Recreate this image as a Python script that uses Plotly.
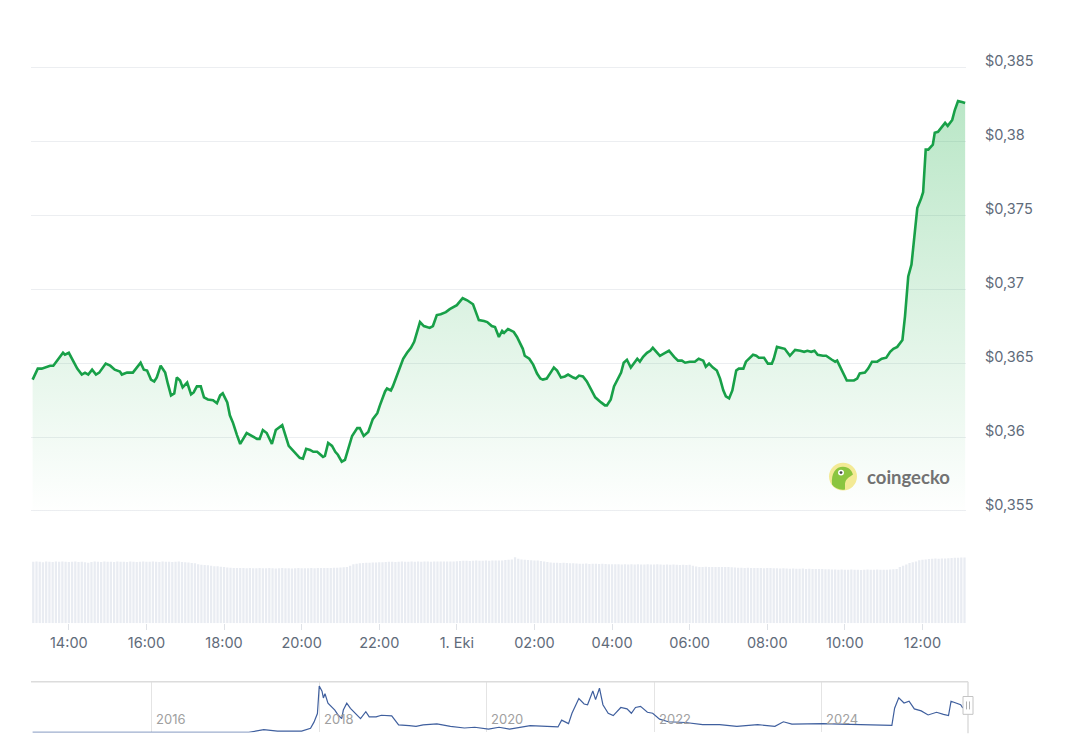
import pandas as pd
import plotly.graph_objects as go

# ---------------- data ----------------
START = pd.Timestamp("2025-09-30 13:00")

# minutes after START, price in USD
price_minutes = [
    4, 12, 18, 26, 31, 36, 42, 51, 54, 60, 73, 80, 85, 90, 96, 102, 107, 117, 124, 131,
    139, 142, 150, 159, 171, 176, 181, 187, 192, 196, 202, 209, 213, 218, 223, 227, 232, 236, 243, 249,
    253, 258, 264, 269, 275, 283, 289, 294, 298, 305, 309, 314, 320, 325, 335, 343, 351, 355, 360, 366,
    374, 380, 390, 400, 410, 417, 422, 427, 433, 438, 444, 453, 456, 461, 467, 472, 476, 482, 487, 492,
    498, 506, 510, 516, 523, 530, 537, 541, 549, 552, 558, 561, 567, 577, 583, 589, 594, 598, 603, 609,
    618, 623, 629, 635, 643, 649, 660, 669, 676, 685, 688, 694, 702, 707, 714, 719, 725, 730, 733, 739,
    748, 753, 762, 765, 772, 778, 784, 789, 793, 799, 806, 810, 815, 821, 827, 832, 840, 844, 849, 855,
    861, 869, 874, 883, 889, 892, 898, 903, 908, 914, 918, 923, 929, 934, 939, 943, 948, 954, 959, 963,
    969, 974, 982, 988, 996, 1002, 1008, 1013, 1020, 1028, 1034, 1041, 1045, 1050, 1056, 1062, 1067, 1072, 1076, 1081,
    1086, 1092, 1096, 1103, 1107, 1112, 1118, 1123, 1127, 1135, 1141, 1147, 1150, 1155, 1163, 1167, 1175, 1183, 1191, 1197,
    1202, 1208, 1213, 1218, 1226, 1231, 1240, 1245, 1248, 1256, 1263, 1269, 1274, 1279, 1283, 1291, 1296, 1302, 1310, 1317,
    1324, 1330, 1335, 1341, 1345, 1349, 1353, 1358, 1363, 1366, 1369, 1372, 1378, 1381, 1385, 1389, 1396, 1399, 1404, 1410,
    1415, 1419, 1426, 1430, 1435, 1441, 1446,
]
price_values = [
    0.36388, 0.36462, 0.36462, 0.36475, 0.36482, 0.36482, 0.36516, 0.36569, 0.36556, 0.36569,
    0.36462, 0.36422, 0.36435, 0.36422, 0.36455, 0.36422, 0.36435, 0.36496, 0.36482, 0.36455,
    0.36442, 0.36422, 0.36435, 0.36435, 0.36502, 0.36455, 0.36449, 0.36388, 0.36375, 0.36402,
    0.36482, 0.36435, 0.36362, 0.36281, 0.36295, 0.36402, 0.36382, 0.36335, 0.36368, 0.36288,
    0.36301, 0.36342, 0.36342, 0.36268, 0.36254, 0.36248, 0.36228, 0.36281, 0.36295, 0.36234,
    0.36147, 0.36094, 0.36013, 0.35953, 0.36027, 0.36007, 0.35987, 0.35987, 0.36047, 0.36027,
    0.35953, 0.36047, 0.36080, 0.35940, 0.35893, 0.35859, 0.35853, 0.35920, 0.35913, 0.35900,
    0.35900, 0.35866, 0.35873, 0.35960, 0.35940, 0.35900, 0.35880, 0.35833, 0.35846, 0.35913,
    0.36007, 0.36060, 0.36060, 0.36007, 0.36034, 0.36121, 0.36161, 0.36214, 0.36308, 0.36328,
    0.36315, 0.36342, 0.36409, 0.36529, 0.36569, 0.36603, 0.36643, 0.36710, 0.36777, 0.36750,
    0.36737, 0.36750, 0.36824, 0.36830, 0.36844, 0.36864, 0.36891, 0.36938, 0.36924, 0.36897,
    0.36864, 0.36790, 0.36784, 0.36777, 0.36750, 0.36743, 0.36676, 0.36717, 0.36703, 0.36730,
    0.36710, 0.36676, 0.36596, 0.36549, 0.36529, 0.36489, 0.36429, 0.36395, 0.36388, 0.36395,
    0.36442, 0.36469, 0.36449, 0.36402, 0.36409, 0.36422, 0.36402, 0.36395, 0.36415, 0.36409,
    0.36375, 0.36308, 0.36268, 0.36234, 0.36214, 0.36214, 0.36254, 0.36342, 0.36388, 0.36435,
    0.36502, 0.36522, 0.36469, 0.36496, 0.36529, 0.36509, 0.36542, 0.36569, 0.36583, 0.36603,
    0.36576, 0.36549, 0.36569, 0.36583, 0.36542, 0.36516, 0.36516, 0.36502, 0.36509, 0.36509,
    0.36529, 0.36516, 0.36475, 0.36496, 0.36469, 0.36449, 0.36395, 0.36315, 0.36275, 0.36261,
    0.36315, 0.36449, 0.36462, 0.36462, 0.36509, 0.36529, 0.36556, 0.36549, 0.36536, 0.36536,
    0.36496, 0.36496, 0.36529, 0.36609, 0.36603, 0.36596, 0.36549, 0.36589, 0.36583, 0.36576,
    0.36583, 0.36576, 0.36583, 0.36556, 0.36549, 0.36549, 0.36522, 0.36509, 0.36516, 0.36449,
    0.36382, 0.36382, 0.36382, 0.36395, 0.36429, 0.36435, 0.36462, 0.36509, 0.36509, 0.36529,
    0.36536, 0.36576, 0.36596, 0.36609, 0.36636, 0.36656, 0.36817, 0.37085, 0.37165, 0.37299,
    0.37386, 0.37547, 0.37614, 0.37654, 0.37942, 0.37942, 0.37976, 0.38056, 0.38063, 0.38096,
    0.38123, 0.38103, 0.38143, 0.38210, 0.38270, 0.38264, 0.38257,
]

# 24h trading volume (USD millions), one bar every 5 minutes from 13:05
volume_start = "2025-09-30 13:05"
volume_values = [
    310, 312, 310, 308, 311, 310, 309, 311, 310, 312, 310, 309,
    310, 311, 309, 310, 308, 305, 309, 311, 310, 309, 311, 310,
    310, 309, 311, 310, 310, 309, 311, 310, 309, 310, 311, 310,
    310, 311, 310, 309, 311, 310, 310, 309, 310, 311, 309, 308,
    306, 304, 302, 298, 295, 294, 293, 290, 288, 287, 285, 284,
    281, 280, 279, 279, 278, 278, 277, 278, 277, 277, 278, 277,
    277, 278, 277, 276, 277, 278, 277, 277, 276, 277, 278, 277,
    277, 277, 278, 277, 278, 278, 279, 278, 279, 280, 280, 281,
    282, 284, 290, 298, 300, 302, 304, 305, 305, 306, 306, 307,
    308, 309, 310, 310, 309, 310, 311, 310, 310, 311, 310, 311,
    310, 311, 311, 310, 311, 312, 311, 312, 312, 311, 312, 313,
    314, 315, 315, 314, 315, 316, 315, 315, 316, 315, 316, 316,
    316, 317, 319, 320, 322, 333, 325, 321, 320, 319, 318, 317,
    316, 314, 311, 309, 306, 305, 305, 304, 305, 304, 303, 302,
    301, 300, 300, 301, 299, 300, 300, 299, 300, 299, 298, 298,
    297, 297, 296, 297, 296, 297, 296, 297, 296, 296, 297, 296,
    296, 297, 296, 295, 296, 295, 296, 295, 294, 295, 294, 295,
    290, 286, 284, 284, 285, 284, 283, 284, 284, 283, 284, 283,
    282, 281, 280, 280, 279, 280, 278, 279, 278, 278, 277, 278,
    278, 277, 277, 276, 277, 276, 275, 276, 275, 275, 276, 274,
    275, 274, 274, 273, 273, 272, 272, 271, 271, 270, 271, 270,
    270, 271, 270, 270, 269, 270, 271, 270, 270, 271, 270, 270,
    270, 271, 272, 274, 283, 290, 296, 304, 308, 312, 318, 320,
    322, 324, 325, 326, 325, 327, 326, 328, 329, 330, 330, 331,
    332,
]

y_tick_values = [0.355, 0.36, 0.365, 0.37, 0.375, 0.38, 0.385]
y_tick_labels = ["$0,355", "$0,36", "$0,365", "$0,37", "$0,375", "$0,38", "$0,385"]

x_tick_times = [
    "2025-09-30 14:00", "2025-09-30 16:00", "2025-09-30 18:00", "2025-09-30 20:00",
    "2025-09-30 22:00", "2025-10-01 00:00", "2025-10-01 02:00", "2025-10-01 04:00",
    "2025-10-01 06:00", "2025-10-01 08:00", "2025-10-01 10:00", "2025-10-01 12:00",
]
x_tick_labels = ["14:00", "16:00", "18:00", "20:00", "22:00", "1. Eki",
                 "02:00", "04:00", "06:00", "08:00", "10:00", "12:00"]

# navigator: long-term price history
nav_dates = [
    "2014-08-01", "2015-06-01", "2016-06-01", "2017-03-01", "2017-05-05", "2017-07-04", "2017-10-17",
    "2017-11-02", "2017-11-25", "2017-12-10", "2017-12-25", "2018-01-02", "2018-01-14", "2018-01-20",
    "2018-01-27", "2018-02-09", "2018-02-24", "2018-03-11", "2018-03-26", "2018-04-10", "2018-04-17",
    "2018-05-02", "2018-05-18", "2018-06-09", "2018-07-01", "2018-07-24", "2018-08-08", "2018-09-07",
    "2018-09-30", "2018-11-14", "2018-12-14", "2019-01-29", "2019-02-28", "2019-03-31", "2019-05-30",
    "2019-07-28", "2019-09-27", "2019-11-11", "2020-01-10", "2020-02-25", "2020-04-11", "2020-07-10",
    "2020-08-25", "2020-11-08", "2020-11-24", "2020-12-24", "2021-01-08", "2021-02-07", "2021-03-02",
    "2021-03-17", "2021-04-09", "2021-04-21", "2021-05-08", "2021-05-23", "2021-06-15", "2021-07-07",
    "2021-08-09", "2021-09-05", "2021-09-24", "2021-10-12", "2021-11-03", "2021-12-03", "2021-12-26",
    "2022-01-25", "2022-03-04", "2022-05-18", "2022-08-01", "2022-10-14", "2022-12-28", "2023-03-29",
    "2023-06-12", "2023-07-19", "2023-08-25", "2023-10-24", "2024-01-07", "2024-03-22", "2024-06-06",
    "2024-08-20", "2024-11-03", "2024-11-15", "2024-12-03", "2024-12-26", "2025-01-17", "2025-02-09",
    "2025-03-11", "2025-04-10", "2025-05-17", "2025-06-16", "2025-07-08", "2025-07-19", "2025-08-08",
    "2025-08-30", "2025-09-07", "2025-09-25",
]
nav_values = [
    0.003, 0.002, 0.002, 0.003, 0.038, 0.019, 0.019,
    0.038, 0.056, 0.141, 0.258, 0.635, 0.564, 0.471,
    0.528, 0.400, 0.352, 0.306, 0.235, 0.188, 0.306,
    0.400, 0.329, 0.258, 0.188, 0.283, 0.212, 0.212,
    0.235, 0.226, 0.103, 0.094, 0.084, 0.103, 0.117,
    0.084, 0.061, 0.071, 0.046, 0.071, 0.046, 0.094,
    0.090, 0.075, 0.169, 0.121, 0.262, 0.464, 0.389,
    0.379, 0.566, 0.449, 0.604, 0.379, 0.262, 0.230,
    0.341, 0.322, 0.262, 0.341, 0.356, 0.276, 0.262,
    0.182, 0.146, 0.136, 0.107, 0.107, 0.084, 0.107,
    0.084, 0.146, 0.113, 0.121, 0.121, 0.113, 0.107,
    0.098, 0.098, 0.332, 0.473, 0.403, 0.426, 0.322,
    0.295, 0.239, 0.276, 0.248, 0.230, 0.426, 0.403,
    0.379, 0.341, 0.360,
]
nav_year_ticks = ["2016-01-01", "2018-01-01", "2020-01-01", "2022-01-01", "2024-01-01"]
nav_year_labels = ["2016", "2018", "2020", "2022", "2024"]

# ---------------- figure ----------------
W, H = 1067, 750


def px_x(x):
    return x / W


def px_y(y):
    return 1 - y / H


price_times = [START + pd.Timedelta(minutes=m) for m in price_minutes]
volume_times = pd.date_range(volume_start, periods=len(volume_values), freq="5min")

LINE = "rgb(24,160,72)"
FILLC = "34,177,76"
TICK_FONT = dict(family="Inter, Roboto, sans-serif", size=14.5, color="#5f6b7a")

fig = go.Figure()

fig.add_trace(go.Scatter(
    x=price_times, y=price_values, mode="lines",
    line=dict(color=LINE, width=2.6, shape="linear"),
    fill="tozeroy",
    fillgradient=dict(type="vertical",
                      colorscale=[[0, f"rgba({FILLC},0)"], [1, f"rgba({FILLC},0.34)"]],
                      start=0.355, stop=0.385),
    xaxis="x", yaxis="y", hoverinfo="skip", showlegend=False,
))

fig.add_trace(go.Bar(
    x=volume_times, y=volume_values,
    marker=dict(color="#e9ecf2", line=dict(width=0)),
    xaxis="x", yaxis="y2", hoverinfo="skip", showlegend=False,
))

fig.add_trace(go.Scatter(
    x=nav_dates, y=nav_values, mode="lines",
    line=dict(color="#3f5f9e", width=1.2),
    xaxis="x3", yaxis="y3", hoverinfo="skip", showlegend=False,
))

x_range = [START + pd.Timedelta(minutes=1.5), START + pd.Timedelta(minutes=1447.3)]

shapes = [
    # navigator frame
    dict(type="line", xref="paper", yref="paper", x0=px_x(31), x1=px_x(968), y0=px_y(681), y1=px_y(681),
         line=dict(color="#dcdcdc", width=1.5)),
    dict(type="line", xref="paper", yref="paper", x0=px_x(968), x1=px_x(968), y0=px_y(681), y1=px_y(733),
         line=dict(color="#dcdcdc", width=1.5)),
    # navigator handle
    dict(type="rect", xref="paper", yref="paper", x0=px_x(963), x1=px_x(973), y0=px_y(714), y1=px_y(696),
         fillcolor="white", line=dict(color="#c4c4c4", width=1)),
    dict(type="line", xref="paper", yref="paper", x0=px_x(966.5), x1=px_x(966.5), y0=px_y(709), y1=px_y(701),
         line=dict(color="#b0b0b0", width=1)),
    dict(type="line", xref="paper", yref="paper", x0=px_x(969.5), x1=px_x(969.5), y0=px_y(709), y1=px_y(701),
         line=dict(color="#b0b0b0", width=1)),
    # coingecko logo
    dict(type="circle", xref="paper", yref="paper", x0=px_x(829), x1=px_x(857), y0=px_y(488), y1=px_y(460),
         fillcolor="#f3ea95", line=dict(width=0)),
    dict(type="path", xref="paper", yref="paper",
         path=(f"M {px_x(832)},{px_y(482)} "
               f"C {px_x(831)},{px_y(470)} {px_x(836)},{px_y(464)} {px_x(843)},{px_y(464)} "
               f"C {px_x(849)},{px_y(464)} {px_x(852)},{px_y(468)} {px_x(853)},{px_y(472)} "
               f"C {px_x(849)},{px_y(475)} {px_x(846)},{px_y(476)} {px_x(845)},{px_y(481)} "
               f"L {px_x(845)},{px_y(487)} "
               f"C {px_x(840)},{px_y(488)} {px_x(835)},{px_y(486)} {px_x(832)},{px_y(482)} Z"),
         fillcolor="#8bc53f", line=dict(width=0)),
    dict(type="circle", xref="paper", yref="paper", x0=px_x(838), x1=px_x(844), y0=px_y(473), y1=px_y(467),
         fillcolor="white", line=dict(width=0)),
    dict(type="circle", xref="paper", yref="paper", x0=px_x(839.6), x1=px_x(842.4), y0=px_y(471.4), y1=px_y(468.6),
         fillcolor="#4a4a4a", line=dict(width=0)),
]

annotations = [
    dict(text="<b>coingecko</b>", xref="paper", yref="paper", x=px_x(865), y=px_y(474),
         xanchor="left", yanchor="middle", showarrow=False,
         font=dict(family="Lato, Open Sans, sans-serif", size=18.5, color="#727272")),
]
for d, lab in zip(nav_year_ticks, nav_year_labels):
    annotations.append(dict(text=lab, x=d, xref="x3", y=px_y(719), yref="paper",
                            xanchor="left", yanchor="middle", xshift=3, showarrow=False,
                            font=dict(family="Inter, Roboto, sans-serif", size=13, color="#a0a0a0")))

fig.update_layout(
    width=W, height=H,
    margin=dict(l=0, r=0, t=0, b=0),
    paper_bgcolor="white", plot_bgcolor="white",
    bargap=0.3,
    showlegend=False,
    xaxis=dict(
        domain=[px_x(31), px_x(966)], range=x_range, type="date", anchor="y2",
        tickvals=x_tick_times, ticktext=x_tick_labels,
        ticks="outside", ticklen=6, tickcolor="#dfe2e7", tickwidth=1,
        showgrid=False, zeroline=False, showline=False,
        tickfont=TICK_FONT, fixedrange=True,
    ),
    yaxis=dict(
        domain=[px_y(516.2), px_y(53.2)], range=[0.3545, 0.3855], anchor="x", side="right",
        tickvals=y_tick_values, ticktext=y_tick_labels,
        showgrid=True, gridcolor="#eceef1", gridwidth=1,
        ticks="", zeroline=False, showline=False,
        ticklabelstandoff=18, ticklabelshift=-6,
        tickfont=TICK_FONT, fixedrange=True,
    ),
    yaxis2=dict(
        domain=[px_y(622), px_y(540)], range=[0, 410], anchor="x",
        showgrid=False, zeroline=False, showticklabels=False, showline=False, ticks="",
        fixedrange=True,
    ),
    xaxis3=dict(
        domain=[px_x(31), px_x(968)], range=["2014-07-25", "2025-10-01"], type="date", anchor="y3",
        tickvals=nav_year_ticks, showticklabels=False, ticks="",
        showgrid=True, gridcolor="#e4e4e4", gridwidth=1, zeroline=False, showline=False,
        fixedrange=True,
    ),
    yaxis3=dict(
        domain=[px_y(732.3), px_y(681)], range=[0, 0.694], anchor="x3",
        showgrid=False, zeroline=False, showticklabels=False, showline=False, ticks="",
        fixedrange=True,
    ),
    shapes=shapes,
    annotations=annotations,
)

fig.write_html("out.html", config={"displayModeBar": False})
